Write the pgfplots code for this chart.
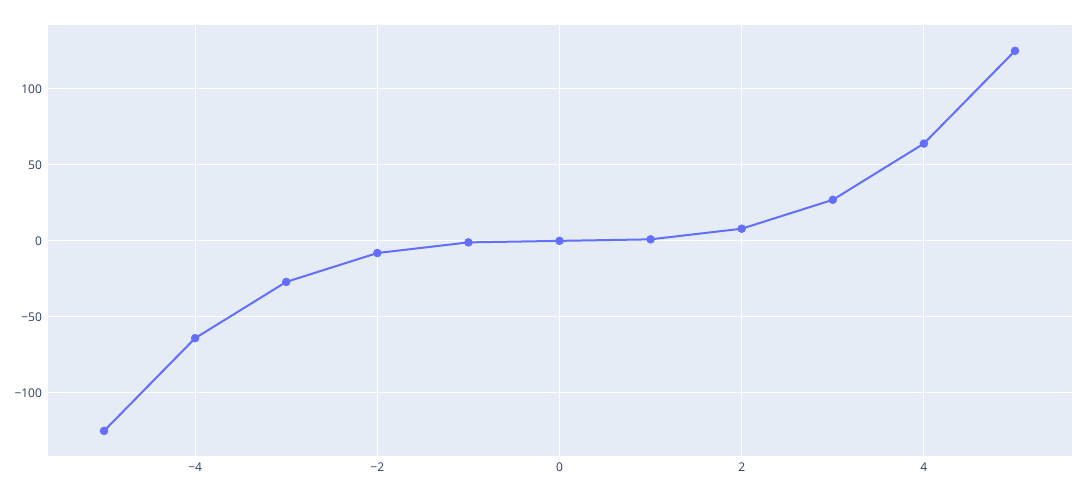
\documentclass[border=0pt]{standalone}
\usepackage{pgfplots}
\pgfplotsset{compat=1.18}
\usepackage{fontspec}
\setmainfont{Open Sans}
\definecolor{bgc}{HTML}{E5ECF6}
\definecolor{linec}{HTML}{636EFA}
\definecolor{labc}{HTML}{2A3F5F}
\begin{document}
\begin{tikzpicture}
\path[use as bounding box] (0,0) rectangle (819pt,373.5pt);
\begin{axis}[
  at={(36pt,31.5pt)}, anchor=south west,
  width=768pt, height=323.25pt, scale only axis,
  xmin=-5.615, xmax=5.626, ymin=-141.5, ymax=142,
  axis background/.style={fill=bgc},
  axis line style={draw=none},
  major tick length=0pt,
  grid=major,
  major grid style={white, line width=0.75pt},
  xtick={-4,-2,2,4},
  xticklabels={−4,−2,2,4},
  extra x ticks={0},
  extra x tick labels={0},
  extra x tick style={grid style={white, line width=1.5pt}},
  ytick={-100,-50,50,100},
  yticklabels={−100,−50,50,100},
  extra y ticks={0},
  extra y tick labels={0},
  extra y tick style={grid style={white, line width=1.5pt}},
  tick label style={font=\fontsize{9}{10}\selectfont, text=labc},
  xticklabel style={yshift=-1.5pt},
  yticklabel style={xshift=-1pt},
  clip=false,
]
\addplot[linec, line width=1.5pt, mark=*, mark size=2.4pt, mark options={fill=linec, draw=linec}]
coordinates {(-5,-125) (-4,-64) (-3,-27) (-2,-8) (-1,-1) (0,0) (1,1) (2,8) (3,27) (4,64) (5,125)};
\end{axis}
\end{tikzpicture}
\end{document}
